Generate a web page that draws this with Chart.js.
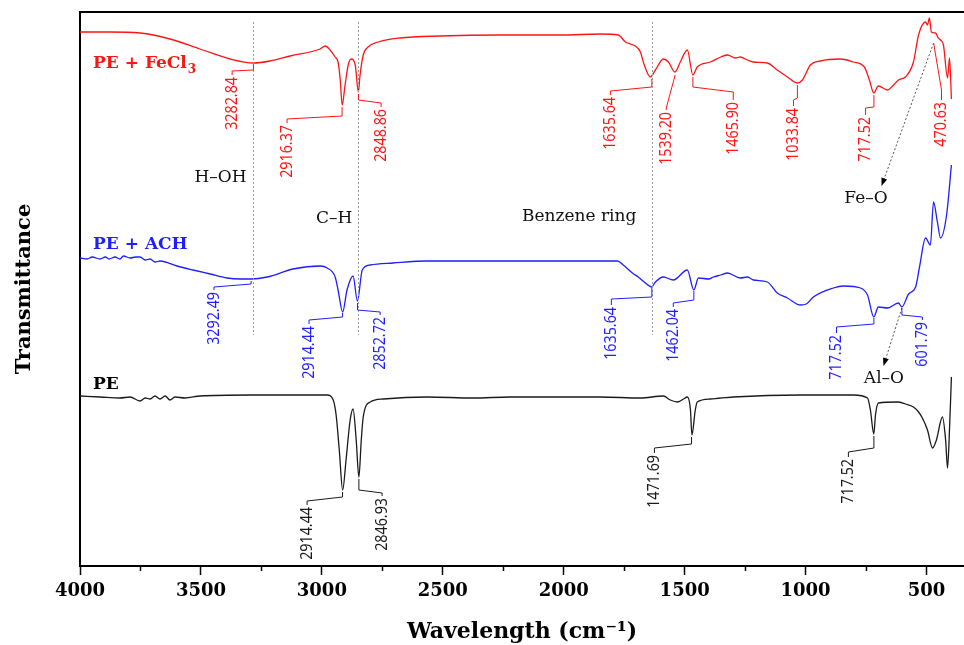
<!DOCTYPE html>
<html>
<head>
<meta charset="utf-8">
<script src="https://cdn.jsdelivr.net/npm/chart.js@4.4.1/dist/chart.umd.min.js"></script>
<style>
    html, body { margin: 0; padding: 0; background: #ffffff; }
    #wrap { width: 964px; height: 645px; position: relative; }
</style>
</head>
<body>
<div id="wrap"><canvas id="ftirChart"></canvas></div>
<script>
// FTIR spectra: PE, PE + ACH, PE + FeCl3 (stacked, transmittance in a.u.)

// Tick labels of the wavenumber axis
const majorTicks = [4000, 3500, 3000, 2500, 2000, 1500, 1000, 500];
const minorTicks = [3750, 3250, 2750, 2250, 1750, 1250, 750];

// PE + FeCl3 (red)
const waveFeCl3 = [4000, 3876, 3752, 3628, 3504, 3379, 3283, 3214, 3131, 3007, 2986, 2966, 2945, 2933, 2924, 2916,
    2904, 2891, 2879, 2862, 2849, 2842, 2829, 2809, 2767, 2676, 2511, 2262, 2014, 1849, 1774, 1745, 1725, 1704,
    1683, 1667, 1642, 1621, 1588, 1567, 1540, 1518, 1489, 1466, 1448, 1394, 1350, 1323, 1290, 1270, 1240, 1216,
    1158, 1117, 1075, 1034, 1013, 980, 939, 856, 802, 757, 736, 718, 699, 661, 640, 616, 587, 554, 533, 504, 496,
    488, 480, 463, 451, 442, 430, 413, 405, 397];
const transFeCl3 = [534, 534, 533, 527, 517, 507, 503, 505, 510, 517, 520, 516, 509, 504, 486, 461,
    481, 501, 507, 501, 474, 491, 511, 519, 524, 528, 530, 531, 531, 532, 531, 524, 522, 520,
    514, 501, 489, 496, 507, 504, 494, 504, 516, 491, 499, 504, 509, 511, 508, 509, 506, 504,
    503, 496, 489, 483, 486, 501, 505, 507, 504, 499, 486, 473, 480, 476, 480, 486, 489, 504, 531, 544, 541,
    548, 534, 533, 528, 526, 521, 488, 508, 467];

// PE + ACH (blue)
const waveACH = [4000, 3970, 3950, 3917, 3895, 3880, 3855, 3835, 3820, 3793, 3770, 3752, 3730, 3710, 3690, 3669,
    3599, 3533, 3462, 3392, 3338, 3292, 3226, 3119, 3007, 2978, 2945, 2933, 2914, 2896, 2871, 2853, 2833, 2800,
    2705, 2564, 2428, 2221, 1778, 1754, 1716, 1692, 1667, 1636, 1621, 1588, 1547, 1489, 1462, 1443, 1400, 1381,
    1350, 1323, 1270, 1240, 1216, 1158, 1117, 1075, 1021, 997, 968, 885, 844, 773, 744, 718, 699, 661, 616, 602,
    574, 545, 529, 504, 484, 471, 455, 442, 417, 397];
const transACH = [308, 307, 309, 307, 309, 307, 309, 307, 310, 308, 309, 309, 306, 307, 304, 305,
    300, 296, 292, 288, 287, 287, 289, 297, 300, 298, 289, 276, 254, 276, 290, 265, 296, 301,
    303, 305, 305, 305, 305, 301, 293, 289, 284, 279, 284, 289, 286, 296, 276, 288, 287, 289,
    291, 293, 288, 289, 286, 284, 273, 268, 261, 262, 269, 278, 280, 278, 271, 249, 259, 258, 263, 259,
    272, 279, 299, 328, 321, 364, 344, 328, 351, 401];

// PE (black)
const wavePE = [4000, 3917, 3835, 3793, 3752, 3730, 3710, 3690, 3669, 3648, 3628, 3607, 3566, 3504, 3297, 3090, 2978, 2953,
    2941, 2928, 2914, 2900, 2883, 2871, 2858, 2847, 2837, 2829, 2800, 2746, 2564, 2374, 2221, 1849, 1683, 1588,
    1559, 1530, 1505, 1489, 1476, 1470, 1456, 1448, 1394, 1299, 1021, 802, 744, 732, 718, 711, 699, 620, 587,
    554, 533, 517, 496, 475, 459, 434, 421, 413, 405, 397];
const transPE = [170, 169, 168, 169, 165, 168, 167, 170, 167, 170, 166, 169, 168, 170, 171, 171, 171, 166,
    151, 116, 76, 106, 146, 157, 126, 89, 126, 149, 164, 167, 169, 168, 169, 169, 168, 170,
    166, 164, 167, 169, 156, 131, 156, 164, 167, 169, 171, 171, 168, 156, 132, 151, 163, 164, 162,
    159, 154, 148, 136, 118, 126, 149, 126, 98, 136, 189];

const RED = '#ff1414';
const BLUE = '#1e1eff';
const BLACK = '#1a1a1a';

// Peak labels: leader from the peak (at, tip) down to y1, across to (lx, y2), down to y3, then the rotated number
const peakLabels = [
    { color: RED, text: '3282.84', at: 3282.84, tip: 502, y1: 496, lx: 3371, y2: 495, y3: 491 },
    { color: RED, text: '2916.37', at: 2916.37, tip: 459, y1: 450, lx: 3144, y2: 447, y3: 443 },
    { color: RED, text: '2848.86', at: 2848.86, tip: 472, y1: 466, lx: 2755, y2: 463, y3: 459 },
    { color: RED, text: '1635.64', at: 1635.64, tip: 487, y1: 479, lx: 1807, y2: 475, y3: 471 },
    { color: RED, text: '1539.20', at: 1539.20, tip: 491, y1: 491, lx: 1576, y2: 458, y3: 456 },
    { color: RED, text: '1465.90', at: 1465.90, tip: 489, y1: 479, lx: 1299, y2: 474, y3: 466 },
    { color: RED, text: '1033.84', at: 1033.84, tip: 481, y1: 468, lx: 1050, y2: 466, y3: 460 },
    { color: RED, text: '717.52', at: 717.52, tip: 471, y1: 459, lx: 752, y2: 458, y3: 451 },
    { color: RED, text: '470.63', at: 470.63, tip: 523, y1: 523, lx: 438, y2: 476, y3: 466 },
    { color: BLUE, text: '3292.49', at: 3292.49, tip: 285, y1: 282, lx: 3446, y2: 279, y3: 276 },
    { color: BLUE, text: '2914.44', at: 2914.44, tip: 253, y1: 249, lx: 3053, y2: 246, y3: 242 },
    { color: BLUE, text: '2852.72', at: 2852.72, tip: 263, y1: 256, lx: 2759, y2: 254, y3: 251 },
    { color: BLUE, text: '1635.64', at: 1635.64, tip: 278, y1: 269, lx: 1803, y2: 267, y3: 261 },
    { color: BLUE, text: '1462.04', at: 1462.04, tip: 275, y1: 266, lx: 1547, y2: 263, y3: 259 },
    { color: BLUE, text: '717.52', at: 717.52, tip: 248, y1: 242, lx: 872, y2: 239, y3: 233 },
    { color: BLUE, text: '601.79', at: 601.79, tip: 258, y1: 251, lx: 517, y2: 249, y3: 246 },
    { color: BLACK, text: '2914.44', at: 2914.44, tip: 74, y1: 69, lx: 3061, y2: 65, y3: 61 },
    { color: BLACK, text: '2846.93', at: 2846.93, tip: 87, y1: 76, lx: 2751, y2: 73, y3: 70 },
    { color: BLACK, text: '1471.69', at: 1471.69, tip: 129, y1: 122, lx: 1625, y2: 118, y3: 113 },
    { color: BLACK, text: '717.52', at: 717.52, tip: 130, y1: 118, lx: 823, y2: 114, y3: 109 }
];

// Band assignments
const bandLabels = [
    { text: 'H\u2013OH', at: 3419, base: 384 },
    { text: 'C\u2013H', at: 2949, base: 343 },
    { text: 'Benzene ring', at: 1936, base: 345 },
    { text: 'Fe\u2013O', at: 750, base: 363 },
    { text: 'Al\u2013O', at: 676, base: 183 }
];
const guideLines = [3282.84, 2848.86, 1635.64];
const arrows = [
    { from: [470.63, 523], to: [686, 380] },
    { from: [601.79, 258], to: [678, 200] }
];

function zip(xs, ys) {
    return xs.map((x, i) => ({ x: x, y: ys[i] }));
}

const overlay = {
    id: 'ftirOverlay',
    afterDraw(chart) {
        const ctx = chart.ctx;
        const xs = chart.scales.x;
        const ys = chart.scales.y;
        const area = chart.chartArea;
        const px = v => xs.getPixelForValue(v);
        const py = v => ys.getPixelForValue(v);

        ctx.save();

        // top frame line
        ctx.strokeStyle = '#000';
        ctx.lineWidth = 2;
        ctx.beginPath();
        ctx.moveTo(area.left, area.top);
        ctx.lineTo(area.right, area.top);
        ctx.stroke();

        // minor ticks
        ctx.lineWidth = 1.5;
        minorTicks.forEach(t => {
            const x = Math.round(px(t)) + 0.5;
            ctx.beginPath();
            ctx.moveTo(x, area.bottom);
            ctx.lineTo(x, area.bottom + 5);
            ctx.stroke();
        });

        // dotted guide lines
        ctx.strokeStyle = '#9a9a9a';
        ctx.lineWidth = 1;
        ctx.setLineDash([2, 2]);
        guideLines.forEach(g => {
            const x = Math.round(px(g)) + 0.5;
            ctx.beginPath();
            ctx.moveTo(x, py(544));
            ctx.lineTo(x, py(231));
            ctx.stroke();
        });

        // arrows
        ctx.strokeStyle = '#555';
        arrows.forEach(a => {
            const x0 = px(a.from[0]), y0 = py(a.from[1]);
            const x1 = px(a.to[0]), y1 = py(a.to[1]);
            const ang = Math.atan2(y1 - y0, x1 - x0);
            ctx.setLineDash([2, 2]);
            ctx.beginPath();
            ctx.moveTo(x0, y0);
            ctx.lineTo(x1 - 7 * Math.cos(ang), y1 - 7 * Math.sin(ang));
            ctx.stroke();
            ctx.setLineDash([]);
            ctx.fillStyle = '#000';
            ctx.beginPath();
            ctx.moveTo(x1, y1);
            ctx.lineTo(x1 - 8 * Math.cos(ang) + 3 * Math.sin(ang), y1 - 8 * Math.sin(ang) - 3 * Math.cos(ang));
            ctx.lineTo(x1 - 8 * Math.cos(ang) - 3 * Math.sin(ang), y1 - 8 * Math.sin(ang) + 3 * Math.cos(ang));
            ctx.closePath();
            ctx.fill();
        });
        ctx.setLineDash([]);

        // peak leaders and rotated numbers
        peakLabels.forEach(p => {
            ctx.strokeStyle = p.color;
            ctx.fillStyle = p.color;
            ctx.lineWidth = 1;
            ctx.beginPath();
            ctx.moveTo(px(p.at), py(p.tip));
            ctx.lineTo(px(p.at), py(p.y1));
            ctx.lineTo(px(p.lx), py(p.y2));
            ctx.lineTo(px(p.lx), py(p.y3));
            ctx.stroke();

            ctx.save();
            ctx.translate(px(p.lx), py(p.y3) + 2);
            ctx.rotate(-Math.PI / 2);
            ctx.scale(0.84, 1);
            ctx.font = '17px "Noto Sans"';
            ctx.textAlign = 'right';
            ctx.textBaseline = 'middle';
            ctx.fillText(p.text, 0, 0);
            ctx.restore();
        });

        // band names
        ctx.fillStyle = '#111';
        ctx.font = '17px "DejaVu Serif"';
        ctx.textAlign = 'center';
        ctx.textBaseline = 'alphabetic';
        bandLabels.forEach(b => {
            ctx.fillText(b.text, px(b.at), py(b.base));
        });

        // series names
        ctx.textAlign = 'left';
        ctx.font = 'bold 17px "DejaVu Serif"';
        const lx = px(3946);
        ctx.fillStyle = RED;
        ctx.fillText('PE + FeCl', lx, py(498));
        const w = ctx.measureText('PE + FeCl').width;
        ctx.font = 'bold 12px "DejaVu Serif"';
        ctx.fillText('3', lx + w + 1, py(493));
        ctx.font = 'bold 17px "DejaVu Serif"';
        ctx.fillStyle = BLUE;
        ctx.fillText('PE + ACH', lx, py(317));
        ctx.fillStyle = '#000';
        ctx.fillText('PE', lx, py(177));

        ctx.restore();
    }
};

const ctx = document.getElementById('ftirChart');

new Chart(ctx, {
    type: 'line',
    data: {
        datasets: [
            { label: 'PE + FeCl3', data: zip(waveFeCl3, transFeCl3), borderColor: RED },
            { label: 'PE + ACH', data: zip(waveACH, transACH), borderColor: BLUE },
            { label: 'PE', data: zip(wavePE, transPE), borderColor: BLACK }
        ]
    },
    options: {
        responsive: true,
        maintainAspectRatio: false,
        devicePixelRatio: 1,
        animation: false,
        layout: { padding: { top: 12, right: 0, left: 0, bottom: 0 } },
        elements: {
            point: { radius: 0 },
            line: { borderWidth: 1.3, tension: 0, cubicInterpolationMode: 'monotone' }
        },
        plugins: {
            legend: { display: false },
            tooltip: { enabled: false }
        },
        scales: {
            x: {
                type: 'linear',
                reverse: true,
                min: 345,
                max: 4000,
                afterBuildTicks: scale => {
                    scale.ticks = majorTicks.map(v => ({ value: v }));
                },
                afterFit: scale => { scale.height = 79; },
                ticks: {
                    color: '#000',
                    padding: 6,
                    maxRotation: 0,
                    autoSkip: false,
                    font: { family: 'DejaVu Serif', weight: 'bold', size: 18 },
                    callback: v => String(v)
                },
                grid: {
                    drawOnChartArea: false,
                    tickLength: 9,
                    tickWidth: 1.5,
                    tickColor: '#000'
                },
                border: { display: true, color: '#000', width: 2 },
                title: {
                    display: true,
                    text: 'Wavelength (cm\u207B\u00B9)',
                    color: '#000',
                    font: { family: 'DejaVu Serif', weight: 'bold', size: 22 },
                    padding: { top: 0, bottom: 0 }
                }
            },
            y: {
                min: 0,
                max: 554,
                afterFit: scale => { scale.width = 80; },
                ticks: { display: false },
                grid: { display: false },
                border: { display: true, color: '#000', width: 2 },
                title: {
                    display: true,
                    text: 'Transmittance',
                    color: '#000',
                    font: { family: 'DejaVu Serif', weight: 'bold', size: 21 },
                    padding: { top: 12, bottom: 0 }
                }
            }
        }
    },
    plugins: [overlay]
});
</script>
</body>
</html>
